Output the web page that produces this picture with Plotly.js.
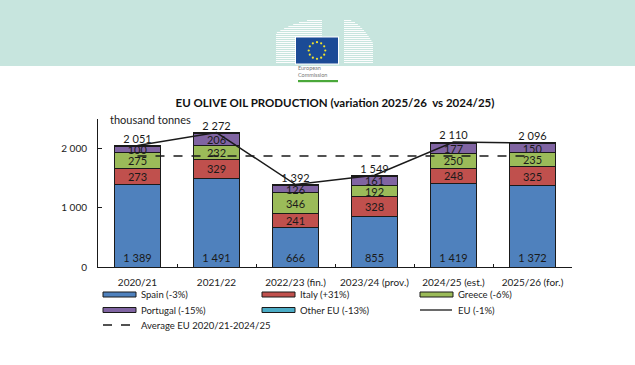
<!DOCTYPE html>
<html>
<head>
<meta charset="utf-8">
<script src="https://cdn.plot.ly/plotly-3.0.1.min.js"></script>
<style>
  html, body { margin: 0; padding: 0; background: #ffffff; }
  #wrap { position: relative; width: 635px; height: 365px; overflow: hidden; }
  #header { position: absolute; left: 0; top: 0; z-index: 0; }
  #chart { position: absolute; left: 0; top: 0; width: 635px; height: 365px; z-index: 1; }
</style>
</head>
<body>
<div id="wrap">
<svg id="header" width="635" height="90" xmlns="http://www.w3.org/2000/svg">
  <rect x="0" y="0" width="635" height="66" fill="#c7e5de"/>
  <g id="bldL" stroke="#ffffff" stroke-width="1" opacity="0.95"></g>
  <g id="bldR" stroke="#ffffff" stroke-width="1" opacity="0.95"></g>
  <rect x="295" y="36.5" width="44" height="28" fill="#ffffff"/>
  <rect x="296" y="37.5" width="42" height="26" fill="#1b4b96"/>
  <g id="stars" fill="#f3e62b"></g>
  <text x="298" y="69.5" font-family="Lato" font-size="5.5" fill="#777">European</text>
  <text x="298" y="76.5" font-family="Lato" font-size="5.5" fill="#777">Commission</text>
  <rect x="298" y="80" width="40" height="2.2" fill="#4aa83a"/>
</svg>
<div id="chart"></div>
</div>
<script>
// ---- header decoration (logo) ----
(function () {
  var ns = 'http://www.w3.org/2000/svg';
  var gL = document.getElementById('bldL');
  for (var y = 20.5; y <= 63; y += 2) {
    var xs = y < 33 ? 276 + (322 - 276) * (1 - Math.sqrt((y - 19) / 14)) : 276;
    var ln = document.createElementNS(ns, 'line');
    ln.setAttribute('x1', xs); ln.setAttribute('x2', 322);
    ln.setAttribute('y1', y); ln.setAttribute('y2', y);
    gL.appendChild(ln);
  }
  var gR = document.getElementById('bldR');
  for (var y2 = 20.5; y2 <= 63; y2 += 2) {
    var xe = y2 < 43 ? 344 + (373 - 344) * Math.sqrt((y2 - 19) / 24) : 373;
    var ln2 = document.createElementNS(ns, 'line');
    ln2.setAttribute('x1', 344); ln2.setAttribute('x2', xe);
    ln2.setAttribute('y1', y2); ln2.setAttribute('y2', y2);
    gR.appendChild(ln2);
  }
  var gs = document.getElementById('stars');
  for (var i = 0; i < 12; i++) {
    var a = i * Math.PI / 6;
    var c = document.createElementNS(ns, 'circle');
    c.setAttribute('cx', 317 + 8.3 * Math.sin(a));
    c.setAttribute('cy', 50.5 - 8.3 * Math.cos(a));
    c.setAttribute('r', 1.1);
    gs.appendChild(c);
  }
})();

// ---- data ----
const categories = ['2020/21', '2021/22', '2022/23 (fin.)', '2023/24 (prov.)', '2024/25 (est.)', '2025/26 (for.)'];
const spain    = [1389, 1491, 666, 855, 1419, 1372];
const italy    = [273, 329, 241, 328, 248, 325];
const greece   = [275, 232, 346, 192, 250, 235];
const portugal = [100, 206, 126, 161, 177, 150];
const otherEU  = [14, 14, 13, 13, 16, 14];
const euTotal  = [2051, 2272, 1392, 1549, 2110, 2096];
const euAverage = [1875, 1875, 1875, 1875, 1875, 1875];
const yTickVals = [0, 1000, 2000];
const yTickText = ['0', '1 000', '2 000'];
const seriesNames = ['Spain (-3%)', 'Italy (+31%)', 'Greece (-6%)', 'Portugal (-15%)', 'Other EU (-13%)', 'EU (-1%)', 'Average EU 2020/21-2024/25'];
const chartTitle = 'EU OLIVE OIL PRODUCTION (variation 2025/26  vs 2024/25)';
const unitLabel = 'thousand tonnes';

// ---- styles ----
const colors = ['#4f81bd', '#c0504d', '#9bbb59', '#8064a2', '#4bacc6'];
const FONT = 'Lato, "Open Sans", sans-serif';
const fmt = v => String(v).replace(/\B(?=(\d{3})+(?!\d))/g, ' ');

function barTrace(vals, idx, showText, anchor) {
  return {
    type: 'bar', x: categories, y: vals, name: seriesNames[idx],
    marker: { color: colors[idx], line: { color: '#1a1a1a', width: 1 } },
    text: showText ? vals.map(fmt) : null,
    textposition: showText ? 'inside' : 'none',
    insidetextanchor: anchor || 'middle',
    textangle: 0,
    constraintext: 'none',
    textfont: { family: FONT, size: 11, color: '#1a1a1a' },
    insidetextfont: { family: FONT, size: 11, color: '#1a1a1a' },
    hoverinfo: 'x+y+name'
  };
}

const traces = [
  barTrace(spain, 0, true, 'start'),
  barTrace(italy, 1, true),
  barTrace(greece, 2, true),
  barTrace(portugal, 3, true),
  barTrace(otherEU, 4, false),
  {
    type: 'scatter', mode: 'lines', x: categories, y: euAverage, name: seriesNames[6],
    line: { color: '#1a1a1a', width: 1.3, dash: 'dash' }, cliponaxis: false
  },
  {
    type: 'scatter', mode: 'lines+text', x: categories, y: euTotal, name: seriesNames[5],
    line: { color: '#1a1a1a', width: 1.5 },
    text: euTotal.map(fmt), textposition: 'top center',
    textfont: { family: FONT, size: 11, color: '#1a1a1a' }, cliponaxis: false
  }
];

// ---- layout geometry ----
const W = 635, H = 365, ML = 98, MR = 63, MT = 119, MB = 98;
const PW = W - ML - MR, PH = H - MT - MB;
const fx = px => (px - ML) / PW;
const fy = py => (H - MB - py) / PH;

const shapes = [];
const annotations = [];
function legendRect(x0, x1, yc, color, label) {
  shapes.push({ type: 'rect', xref: 'paper', yref: 'paper', x0: fx(x0), x1: fx(x1), y0: fy(yc + 2.5), y1: fy(yc - 2.5),
    fillcolor: color, line: { color: '#1a1a1a', width: 1 }, layer: 'above' });
  legendText(x1 + 3, yc, label);
}
function legendLine(x0, x1, yc, dash, label) {
  shapes.push({ type: 'line', xref: 'paper', yref: 'paper', x0: fx(x0), x1: fx(x1), y0: fy(yc), y1: fy(yc),
    line: { color: '#1a1a1a', width: 1.3, dash: dash }, layer: 'above' });
  legendText(x1 + 4, yc, label);
}
function legendText(x, yc, label) {
  annotations.push({ xref: 'paper', yref: 'paper', x: fx(x), y: fy(yc), xanchor: 'left', yanchor: 'middle',
    text: label, showarrow: false, font: { family: FONT, size: 9.5, color: '#222' } });
}
legendRect(103, 136, 294.5, colors[0], seriesNames[0]);
legendRect(262, 295, 294.5, colors[1], seriesNames[1]);
legendRect(420, 453, 294.5, colors[2], seriesNames[2]);
legendRect(103, 136, 310, colors[3], seriesNames[3]);
legendRect(262, 295, 310, colors[4], seriesNames[4]);
legendLine(420, 452, 310, 'solid', seriesNames[5]);
legendLine(103, 135, 325, 'dash', seriesNames[6]);

annotations.push({ xref: 'paper', yref: 'paper', x: fx(108), y: fy(119), xanchor: 'left', yanchor: 'middle',
  text: unitLabel, showarrow: false, font: { family: FONT, size: 11, color: '#222' } });

const layout = {
  width: W, height: H,
  margin: { l: ML, r: MR, t: MT, b: MB, pad: 0 },
  paper_bgcolor: 'rgba(0,0,0,0)', plot_bgcolor: 'rgba(0,0,0,0)',
  font: { family: FONT, size: 10, color: '#222' },
  title: { text: '<b>' + chartTitle + '</b>', x: 0.5, xref: 'paper', xanchor: 'center',
    y: 1 - 103 / H, yref: 'container', yanchor: 'middle',
    font: { family: FONT, size: 11.5, color: '#111' } },
  barmode: 'stack', bargap: 0.42,
  showlegend: false,
  uniformtext: { mode: 'show', minsize: 11 },
  xaxis: { type: 'category', showline: true, linecolor: '#1a1a1a', linewidth: 1,
    ticks: 'inside', tickson: 'boundaries', ticklen: 3, tickcolor: '#1a1a1a',
    showgrid: false, zeroline: false, tickfont: { family: FONT, size: 10, color: '#222' },
    ticklabelstandoff: 6, fixedrange: true },
  yaxis: { range: [0, 2500], showline: true, linecolor: '#1a1a1a', linewidth: 1,
    ticks: 'inside', ticklen: 4, tickcolor: '#1a1a1a', tickvals: yTickVals, ticktext: yTickText,
    showgrid: false, zeroline: false, tickfont: { family: FONT, size: 10, color: '#222' },
    ticklabelstandoff: 8, fixedrange: true },
  shapes: shapes, annotations: annotations
};

Plotly.newPlot('chart', traces, layout, { displayModeBar: false, staticPlot: true });
</script>
</body>
</html>
